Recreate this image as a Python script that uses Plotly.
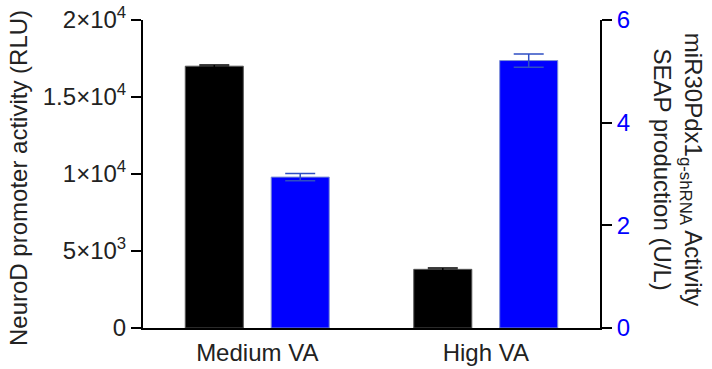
import plotly.graph_objects as go

# Data
categories = ["Medium VA", "High VA"]
neurod_rlu = [17000, 3810]          # left axis (RLU)
neurod_err = [70, 80]
seap_ul = [2.94, 5.21]              # right axis (U/L)
seap_err = [0.07, 0.13]

left_tickvals = [0, 5000, 10000, 15000, 20000]
left_ticktext = ["0", "5×10<sup>3</sup>", "1×10<sup>4</sup>", "1.5×10<sup>4</sup>", "2×10<sup>4</sup>"]
right_tickvals = [0, 2, 4, 6]

FONT = "Liberation Sans, Arial, Helvetica, sans-serif"
TXT = "#222222"
BLUE = "#0000ff"

bar_w = 0.254

fig = go.Figure()
fig.add_trace(go.Bar(
    x=categories, y=neurod_rlu, yaxis="y",
    width=bar_w, offset=-0.188 - bar_w / 2,
    marker=dict(color="#000000", line=dict(color="#555555", width=1)),
    error_y=dict(type="data", array=neurod_err, visible=True,
                 color="#000000", thickness=1.5, width=15),
    showlegend=False,
))
fig.add_trace(go.Bar(
    x=categories, y=seap_ul, yaxis="y2",
    width=bar_w, offset=0.188 - bar_w / 2,
    marker=dict(color=BLUE, line=dict(color="#7d8fd6", width=1)),
    error_y=dict(type="data", array=seap_err, visible=True,
                 color="#2f4fc4", thickness=1.5, width=15),
    showlegend=False,
))

fig.update_layout(
    width=712, height=369,
    margin=dict(l=143, r=112, t=20, b=41, autoexpand=False),
    paper_bgcolor="white", plot_bgcolor="white",
    font=dict(family=FONT, size=24, color=TXT),
    barmode="overlay",
    xaxis=dict(
        type="category", range=[-0.5, 1.5], automargin=False,
        showline=True, linecolor="#000000", linewidth=2,
        ticks="", showgrid=False, zeroline=False,
        tickfont=dict(size=24, color=TXT),
        ticklabelstandoff=2,
    ),
    yaxis=dict(
        range=[0, 20000], tickvals=left_tickvals, ticktext=left_ticktext,
        automargin=False,
        showline=True, linecolor="#000000", linewidth=2,
        ticks="outside", ticklen=10, tickwidth=1.5, tickcolor="#000000",
        showgrid=False, zeroline=False,
        tickfont=dict(size=24, color=TXT),
    ),
    yaxis2=dict(
        range=[0, 6], tickvals=right_tickvals, automargin=False,
        overlaying="y", side="right", anchor="x",
        showline=True, linecolor="#000000", linewidth=2,
        ticks="outside", ticklen=10, tickwidth=1.5, tickcolor="#000000",
        showgrid=False, zeroline=False,
        tickfont=dict(size=24, color=BLUE),
    ),
    annotations=[
        dict(
            text="NeuroD promoter activity (RLU)",
            xref="paper", yref="paper", x=-0.2735, y=0.487,
            xanchor="center", yanchor="middle", textangle=-90,
            showarrow=False, font=dict(size=24, color=TXT),
        ),
        dict(
            text="miR30Pdx1<sub>g-shRNA</sub> Activity<br>SEAP production (U/L)",
            xref="paper", yref="paper", x=1.171, y=0.513,
            xanchor="center", yanchor="middle", textangle=90,
            showarrow=False, font=dict(size=24, color=TXT),
        ),
    ],
)

fig.write_html("out.html")
